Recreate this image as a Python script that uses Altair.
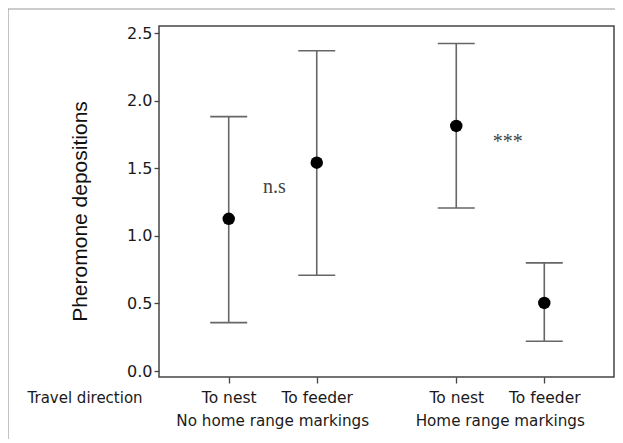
import altair as alt
import pandas as pd

# ---- data ----
conditions = ["To nest", "To feeder", "To nest", "To feeder"]
groups = ["No home range markings", "No home range markings",
          "Home range markings", "Home range markings"]
xpos = [1.0, 2.0, 3.585, 4.585]
means = [1.126, 1.541, 1.813, 0.504]
lower = [0.358, 0.709, 1.206, 0.220]
upper = [1.882, 2.369, 2.423, 0.800]

group_names = ["No home range markings", "Home range markings"]
group_x = [1.5, 4.085]

note_text = ["n.s", "***"]
note_x = [1.52, 4.17]
note_y = [1.317, 1.649]

y_ticks = [0.0, 0.5, 1.0, 1.5, 2.0, 2.5]

df = pd.DataFrame({"cond": conditions, "group": groups, "x": xpos,
                   "mean": means, "lo": lower, "hi": upper})
gdf = pd.DataFrame({"name": group_names, "x": group_x})
ndf = pd.DataFrame({"t": note_text, "x": note_x, "y": note_y})

W, H = 455, 351
xscale = alt.Scale(domain=[0.208, 5.377], nice=False, zero=False)
yscale = alt.Scale(domain=[-0.044, 2.552], nice=False, zero=False)

label_expr = ("datum.value < 1.5 ? 'To nest' : datum.value < 2.5 ? 'To feeder' : "
              "datum.value < 4 ? 'To nest' : 'To feeder'")

x_axis = alt.Axis(values=xpos, labelExpr=label_expr, grid=False, domain=False,
                  tickSize=6, tickColor="#444", tickWidth=1.3,
                  labelFont="DejaVu Sans", labelFontSize=15.5, labelColor="#1a1a1a",
                  labelBaseline="alphabetic", labelPadding=19,
                  title="Travel direction", titleFont="DejaVu Sans",
                  titleFontSize=15, titleFontWeight="normal", titleColor="#1a1a1a",
                  titleX=-132, titleY=25, titleAlign="left",
                  titleBaseline="alphabetic", titleAngle=0)
y_axis = alt.Axis(values=y_ticks, format=".1f", grid=False, domain=False,
                  tickSize=5, tickColor="#444", tickWidth=1.3,
                  labelFont="DejaVu Sans", labelFontSize=16, labelColor="#1a1a1a",
                  labelPadding=2,
                  title="Pheromone depositions", titleFont="Liberation Sans",
                  titleFontSize=21, titleFontWeight="normal", titleColor="#111",
                  titleX=-69, titleY=185, titleAngle=270, titleAlign="center",
                  titleBaseline="bottom")

base = alt.Chart(df)

whisk = base.mark_rule(color="#666", strokeWidth=1.6).encode(
    x=alt.X("x:Q", scale=xscale, axis=x_axis),
    y=alt.Y("lo:Q", scale=yscale, axis=y_axis),
    y2="hi:Q",
)

caps = base.transform_calculate(
    xl="datum.x - 0.21", xr="datum.x + 0.21"
)
cap_hi = caps.mark_rule(color="#666", strokeWidth=1.6).encode(
    x=alt.X("xl:Q", scale=xscale, axis=x_axis), x2="xr:Q",
    y=alt.Y("hi:Q", scale=yscale, axis=y_axis),
)
cap_lo = caps.mark_rule(color="#666", strokeWidth=1.6).encode(
    x=alt.X("xl:Q", scale=xscale, axis=x_axis), x2="xr:Q",
    y=alt.Y("lo:Q", scale=yscale, axis=y_axis),
)

pts = base.mark_point(filled=True, color="black", opacity=1, size=155).encode(
    x=alt.X("x:Q", scale=xscale, axis=x_axis),
    y=alt.Y("mean:Q", scale=yscale, axis=y_axis),
)

glabels = alt.Chart(gdf).mark_text(font="DejaVu Sans", fontSize=15.2, color="#1a1a1a",
                                   baseline="alphabetic", align="center").encode(
    x=alt.X("x:Q", scale=xscale, axis=x_axis),
    y=alt.value(400),
    text="name:N",
)

notes = alt.Chart(ndf).mark_text(font="Liberation Serif", fontSize=20, color="#444",
                                 baseline="alphabetic", align="center").encode(
    x=alt.X("x:Q", scale=xscale, axis=x_axis),
    y=alt.Y("y:Q", scale=yscale, axis=y_axis),
    text="t:N",
)

border_df = pd.DataFrame({"k": [0]})
border_top = alt.Chart(border_df).mark_rule(color="#999", strokeWidth=1.2).encode(
    x=alt.value(-151), x2=alt.value(W + 10), y=alt.value(-17))
border_left = alt.Chart(border_df).mark_rule(color="#999", strokeWidth=1.2).encode(
    x=alt.value(-151), y=alt.value(-17), y2=alt.value(H + 80))

chart = alt.layer(whisk, cap_hi, cap_lo, pts, glabels, notes, border_top, border_left).properties(
    width=W, height=H,
    autosize=alt.AutoSizeParams(type="none"),
    padding={"left": 151, "top": 18, "right": 1, "bottom": 62},
    background="white",
).configure_view(stroke="#444", strokeWidth=1.5)

chart.save("out.html", embed_options={"renderer": "svg", "actions": False})
